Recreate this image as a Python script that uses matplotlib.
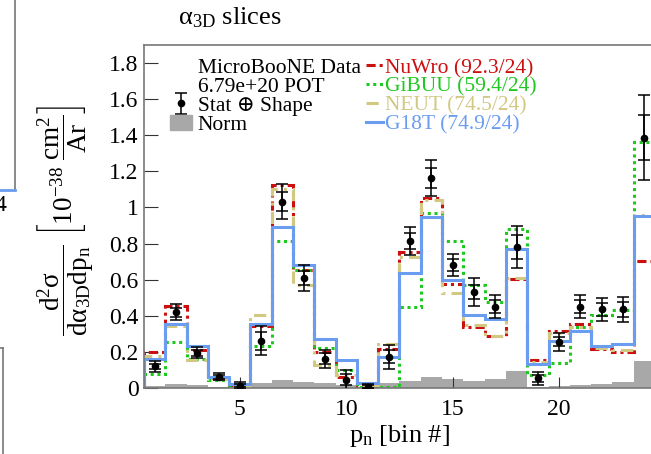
import numpy as np
import matplotlib
matplotlib.use("Agg")
import matplotlib.pyplot as plt
from matplotlib.lines import Line2D
from matplotlib.patches import Patch

plt.rcParams['font.family'] = ['Liberation Serif', 'DejaVu Serif']
plt.rcParams['mathtext.fontset'] = 'custom'
plt.rcParams['mathtext.rm'] = 'Liberation Serif'
plt.rcParams['mathtext.it'] = 'Liberation Serif:italic'

# bin numbers and measured / predicted cross sections (1e-38 cm2/Ar)
bins = np.arange(1, 25)
data = [0.12, 0.42, 0.195, 0.062, 0.013, 0.262, 1.033, 0.609, 0.163, 0.046,
        0.007, 0.173, 0.813, 1.164, 0.681, 0.532, 0.45, 0.782, 0.054, 0.256,
        0.45, 0.435, 0.435, 1.387]
err_tot = [0.03, 0.046, 0.03, 0.02, 0.02, 0.08, 0.095, 0.072, 0.05, 0.055,
           0.015, 0.065, 0.077, 0.1, 0.063, 0.078, 0.064, 0.116, 0.037, 0.05,
           0.065, 0.063, 0.07, 0.236]
err_stat = [0.015, 0.025, 0.015, 0.01, 0.01, 0.05, 0.052, 0.04, 0.03, 0.03,
            0.008, 0.035, 0.045, 0.055, 0.035, 0.04, 0.035, 0.066, 0.02, 0.025,
            0.037, 0.035, 0.04, 0.125]
g18t = [0.16, 0.355, 0.23, 0.061, 0.024, 0.356, 0.891, 0.683, 0.269, 0.157,
        0.03, 0.173, 0.638, 0.945, 0.598, 0.402, 0.38, 0.769, 0.133, 0.26,
        0.317, 0.234, 0.244, 0.952]
nuwro = [0.197, 0.452, 0.212, 0.054, 0.017, 0.345, 1.125, 0.655, 0.2, 0.06,
         0.011, 0.214, 0.754, 1.055, 0.575, 0.34, 0.288, 0.603, 0.155, 0.317,
         0.352, 0.214, 0.2, 0.705]
gibuu = [0.08, 0.255, 0.16, 0.042, 0.006, 0.23, 0.817, 0.655, 0.22, 0.1,
         0.007, 0.008, 0.45, 0.967, 0.815, 0.57, 0.478, 0.88, 0.072, 0.137,
         0.336, 0.404, 0.432, 1.36]
neut = [0.175, 0.345, 0.157, 0.05, 0.013, 0.404, 1.10, 0.572, 0.13, 0.072,
        0.017, 0.243, 0.723, 1.04, 0.524, 0.35, 0.288, 0.607, 0.146, 0.303,
        0.34, 0.22, 0.21, 0.958]
norm = [0.01, 0.022, 0.018, 0.008, 0.008, 0.03, 0.042, 0.035, 0.03, 0.017,
        0.007, 0.026, 0.04, 0.059, 0.05, 0.04, 0.05, 0.096, 0.007, 0.011,
        0.017, 0.02, 0.031, 0.151]

labels = ['NuWro (92.3/24)', 'GiBUU (59.4/24)', 'NEUT (74.5/24)', 'G18T (74.9/24)']
colors = ['#cc1010', '#1ec81e', '#d2c882', '#6a9cf0']

edges = np.arange(0.5, 25.0, 1.0)

fig = plt.figure(figsize=(6.51, 4.54), dpi=100)
ax = fig.add_axes([144/651, 66/454, 511/651, 343/454])

ax.stairs(norm, edges, fill=True, color='#a8a8a8', zorder=1)
styles = [(0, (3, 1.3, 1, 1.3)), (0, (1, 1.2)), (0, (4, 2, 1, 2)), '-']
lines = []
for vals, c, ls in zip([nuwro, gibuu, neut, g18t], colors, styles):
    ax.stairs(vals, edges, color=c, lw=2.2, ls=ls, zorder=2)
    lines.append(Line2D([], [], color=c, lw=2.2, ls=ls))

eb = ax.errorbar(bins, data, yerr=err_tot, fmt='o', color='k', ms=4.5,
                 capsize=4, elinewidth=1.1, capthick=1.1, zorder=5)
ax.errorbar(bins, data, yerr=err_stat, fmt='none', color='k',
            capsize=4, elinewidth=1.1, capthick=1.1, zorder=5)

ax.set_xlim(0.5, 24.5)
ax.set_ylim(0, 1.9)
ax.set_xticks([5, 10, 15, 20])
ax.set_yticks(np.arange(0, 1.81, 0.2))
ax.set_yticklabels(['0', '0.2', '0.4', '0.6', '0.8', '1', '1.2', '1.4', '1.6', '1.8'])
ax.tick_params(axis='both', direction='in', labelsize=17, color='#333333')
ax.tick_params(axis='y', length=10, pad=4)
ax.tick_params(axis='x', length=8, pad=8)
for s in ax.spines.values():
    s.set_color('#777777')
    s.set_linewidth(1.2)

ax.set_xlabel(r'$\mathrm{p_{n}}$ [bin #]', fontsize=19, labelpad=2)
ax.set_ylabel(r'$\dfrac{\mathrm{d^{2}σ}}{\mathrm{dα_{3D}dp_{n}}}\ '
              r'\left[\mathrm{10^{-38}}\ \dfrac{\mathrm{cm^{2}}}{\mathrm{Ar}}\right]$',
              fontsize=19.5)
ax.yaxis.set_label_coords(-0.095, 0.49)
fig.text(0.353, 0.96, r'$\mathrm{α_{3D}}$ slices', fontsize=19, ha='center', va='center')

blank = Line2D([], [], alpha=0)
leg1 = ax.legend([blank, blank, eb, Patch(color='#a8a8a8')],
                 ['MicroBooNE Data', '6.79e+20 POT', 'Stat ⊕ Shape', 'Norm'],
                 loc='upper left', bbox_to_anchor=(0.025, 1.0), frameon=False,
                 fontsize=15.5, handlelength=1.05, handletextpad=0.25,
                 labelspacing=-0.05, borderpad=0.1)
ax.add_artist(leg1)
ax.legend(lines, labels, loc='upper left', bbox_to_anchor=(0.41, 1.0),
          frameon=False, fontsize=15.5, handlelength=0.75, handletextpad=0.12,
          labelspacing=-0.05, borderpad=0.1, labelcolor=colors)

# pieces of the neighbouring panels at the left edge
fig.add_artist(Line2D([15/651, 15/651], [1, 1 - 190/454], color='#777777', lw=1.2))
fig.add_artist(Line2D([0, 15/651], [1 - 190/454, 1 - 190/454], color='#6a9cf0', lw=2))
fig.text(-0.008, 1 - 205/454, '4', fontsize=17, ha='left', va='center')
fig.add_artist(Line2D([3/651, 3/651], [0, 1 - 348/454], color='#777777', lw=1.2))
fig.add_artist(Line2D([0, 3/651], [1 - 348/454, 1 - 348/454], color='#777777', lw=1.2))

fig.savefig('out.png', dpi=100)
